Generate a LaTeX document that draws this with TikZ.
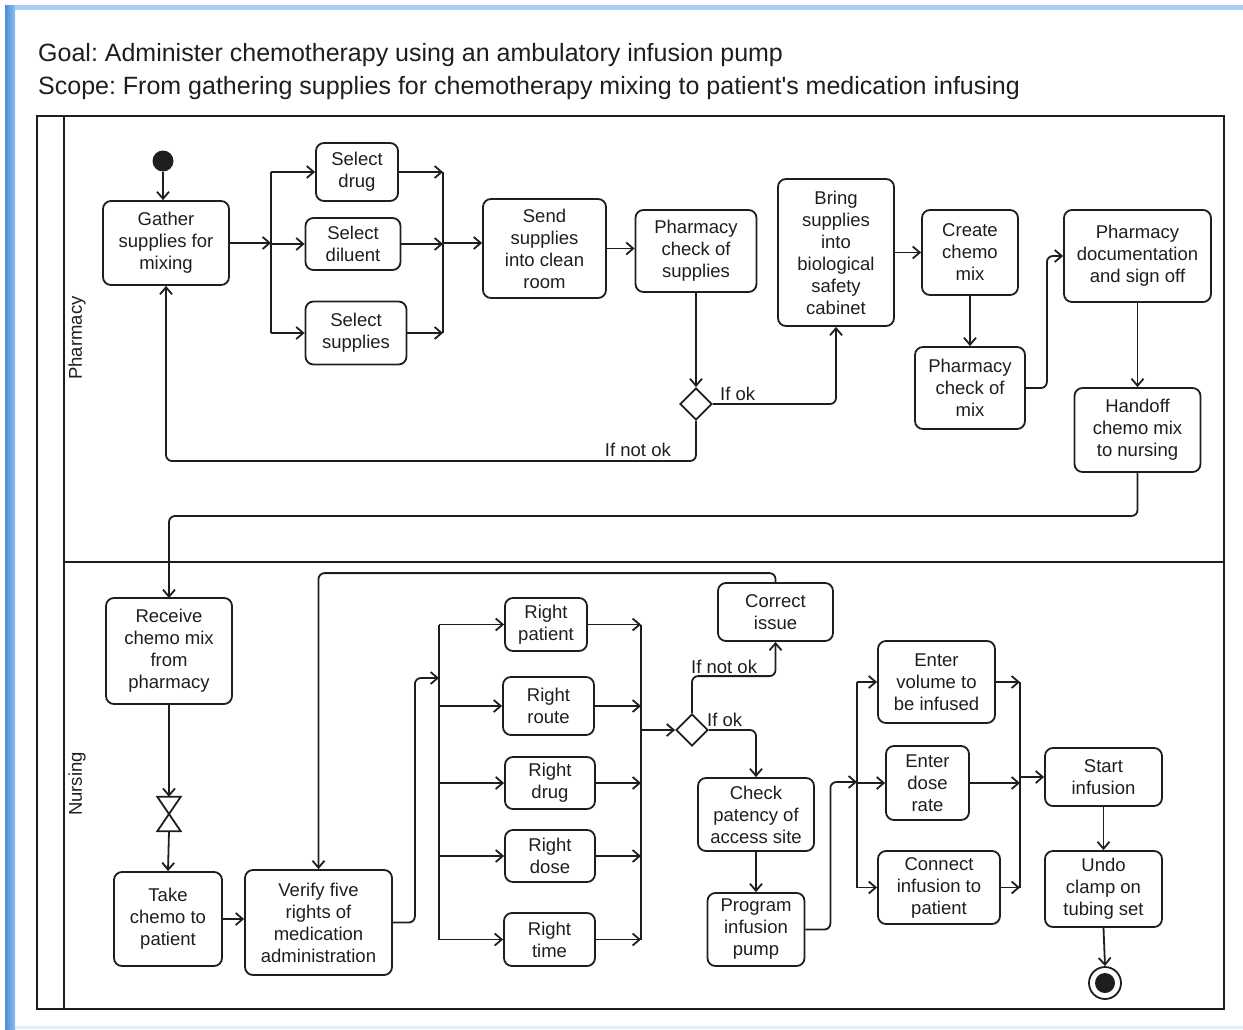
\documentclass[tikz,border=0pt]{standalone}
\usepackage{fontspec}
\setmainfont{Liberation Sans}
\usetikzlibrary{arrows.meta,shapes.geometric,calc}

\definecolor{ink}{HTML}{1E1E1E}
\definecolor{edgeblue}{HTML}{4C8ED6}
\definecolor{edgeblueL}{HTML}{8DBDF0}
\definecolor{topblue}{HTML}{A8CDF6}
\definecolor{botblue}{HTML}{E2F0FB}

\newcommand\actfont{\fontsize{18.5}{22}\selectfont}
\newcommand\headfont{\fontsize{25}{30}\selectfont}
\frenchspacing

\begin{document}
\begin{tikzpicture}[x=1pt,y=-1pt,
  inkline/.style={draw=ink, line width=1.8pt},
  act/.style={draw=ink, line width=1.8pt, rounded corners=8pt, align=center,
    inner sep=0pt, font=\actfont, text=ink},
  flow/.style={draw=ink, line width=1.8pt, rounded corners=6pt,
    -{Straight Barb[length=7pt,width=12pt]}},
  bar/.style={draw=ink, line width=1.8pt},
  decision/.style={diamond, aspect=1, draw=ink, line width=1.8pt,
    minimum width=32pt, minimum height=32pt, inner sep=0pt},
  guard/.style={font=\actfont, text=ink, inner sep=0pt},
  lane/.style={font=\actfont, text=ink, rotate=90, inner sep=0pt},
]
\useasboundingbox (0,0) rectangle (1243,1029);

% window edge
\fill[topblue] (5,5) rectangle (1243,10);
\fill[botblue] (14,1026) rectangle (1243,1029);
\shade[left color=edgeblue, right color=edgeblueL] (5,5) rectangle (15,1029);

% heading
\node[anchor=base west, font=\headfont, text=ink, inner sep=0pt] (goal) at (38,61)
  {Goal: Administer chemotherapy using an ambulatory infusion pump};
\node[anchor=base west, font=\headfont, text=ink, inner sep=0pt] (scope) at (38,94)
  {Scope: From gathering supplies for chemotherapy mixing to patient\textquotesingle s medication infusing};

% pool and lanes
\draw[inkline] (37,116) rectangle (1224,1009);
\draw[inkline] (64,116) -- (64,1009);
\draw[inkline] (64,562) -- (1224,562);
\node[lane] (lanePh) at (77,338) {Pharmacy};
\node[lane] (laneNu) at (77,784) {Nursing};

% ---------------- Pharmacy lane ----------------
\node[circle, fill=ink, minimum size=21pt, inner sep=0pt] (init) at (163,161) {};
\node[act, minimum width=126pt, minimum height=84pt] (gather) at (166,243) {Gather\\supplies for\\mixing};
\node[act, minimum width=82pt, minimum height=58pt] (seldrug) at (357,172) {Select\\drug};
\node[act, minimum width=95pt, minimum height=52pt] (seldil) at (353,244) {Select\\diluent};
\node[act, minimum width=101pt, minimum height=63pt] (selsup) at (356,333) {Select\\supplies};
\node[act, minimum width=123pt, minimum height=99pt] (send) at (544.5,248.5) {Send\\supplies\\into clean\\room};
\node[act, minimum width=121pt, minimum height=82pt] (chksup) at (696,251) {Pharmacy\\check of\\supplies};
\node[decision] (dec1) at (696,404) {};
\node[act, minimum width=116pt, minimum height=147pt] (bring) at (836,252.5) {Bring\\supplies\\into\\biological\\safety\\cabinet};
\node[act, minimum width=96pt, minimum height=85pt] (create) at (970,252.5) {Create\\chemo\\mix};
\node[act, minimum width=110pt, minimum height=82pt] (chkmix) at (970,388) {Pharmacy\\check of\\mix};
\node[act, minimum width=147pt, minimum height=92pt] (doc) at (1137.5,256) {Pharmacy\\documentation\\and sign off};
\node[act, minimum width=126pt, minimum height=84pt] (handoff) at (1137.5,430) {Handoff\\chemo mix\\to nursing};

% fork / join bars for supply selection
\coordinate (f1t) at (271,172);
\coordinate (f1b) at (271,333);
\coordinate (j1t) at (443,172);
\coordinate (j1b) at (443,333);
\draw[bar] (f1t) -- (f1b);
\draw[bar] (j1t) -- (j1b);

\draw[flow] (init.south) -- (init.south |- gather.north);
\draw[flow] (gather.east) -- (gather.east -| f1t);
\foreach \n in {seldrug,seldil,selsup}{
  \draw[flow] (\n.west -| f1t) -- (\n.west);
  \draw[flow] (\n.east) -- (\n.east -| j1t);
}
\draw[flow] (gather.east -| j1t) -- (gather.east -| send.west);
\draw[flow] (send.east) -- (send.east -| chksup.west);
\draw[flow] (chksup.south) -- (dec1.north);
\draw[flow] (dec1.east) -| (bring.south);
\node[guard, anchor=base west] (okA) at (720,400) {If ok};
\coordinate (retA) at (166,461);
\draw[flow] (dec1.south) |- (retA) -- (gather.south);
\node[guard, anchor=base east] (nokA) at (671,456) {If not ok};
\draw[flow] (bring.east) -- (bring.east -| create.west);
\draw[flow] (create.south) -- (chkmix.north);
\draw[flow] (chkmix.east) -- ++(21,0) |- (doc.west);
\draw[flow] (doc.south) -- (handoff.north);
\coordinate (handA) at (600,516);
\draw[flow] (handoff.south) |- (handA) -| (169,598);

% ---------------- Nursing lane ----------------
\node[act, minimum width=126pt, minimum height=106pt] (receive) at (169,651) {Receive\\chemo mix\\from\\pharmacy};
\node[minimum width=23pt, minimum height=34pt, inner sep=0pt] (wait) at (169,814) {};
\draw[inkline, line join=miter] (wait.north west) -- (wait.north east) -- (wait.south west) -- (wait.south east) -- cycle;
\node[act, minimum width=108pt, minimum height=94pt] (take) at (168,919) {Take\\chemo to\\patient};
\node[act, minimum width=147pt, minimum height=105pt] (verify) at (318.5,922.5) {Verify five\\rights of\\medication\\administration};

\node[act, minimum width=82pt, minimum height=53pt] (rpat) at (546,624.5) {Right\\patient};
\node[act, minimum width=91pt, minimum height=58pt] (rroute) at (548.5,706) {Right\\route};
\node[act, minimum width=90pt, minimum height=52pt] (rdrug) at (550,783) {Right\\drug};
\node[act, minimum width=90pt, minimum height=52pt] (rdose) at (550,856) {Right\\dose};
\node[act, minimum width=91pt, minimum height=53pt] (rtime) at (549.5,939.5) {Right\\time};

\node[decision] (dec2) at (692,730) {};
\node[act, minimum width=115pt, minimum height=58pt] (correct) at (775.5,612) {Correct\\issue};
\node[act, minimum width=116pt, minimum height=73pt] (patency) at (756,814.5) {Check\\patency of\\access site};
\node[act, minimum width=97pt, minimum height=73pt] (program) at (756,929.5) {Program\\infusion\\pump};

\node[act, minimum width=117pt, minimum height=82pt] (volume) at (936.5,682) {Enter\\volume to\\be infused};
\node[act, minimum width=83pt, minimum height=74pt] (rate) at (927.5,783) {Enter\\dose\\rate};
\node[act, minimum width=122pt, minimum height=73pt] (connect) at (939,887.5) {Connect\\infusion to\\patient};
\node[act, minimum width=117pt, minimum height=58pt] (startinf) at (1103.5,777) {Start\\infusion};
\node[act, minimum width=117pt, minimum height=76pt] (undo) at (1103.5,889) {Undo\\clamp on\\tubing set};
\node[circle, draw=ink, line width=1.8pt, minimum size=32pt, inner sep=0pt] (final) at (1105,983) {};
\node[circle, fill=ink, minimum size=20pt, inner sep=0pt] (finaldot) at (final.center) {};

% fork / join bars for the five rights and the pump set-up
\coordinate (f2t) at (439,624.5);
\coordinate (f2b) at (439,939.5);
\coordinate (j2t) at (641,624.5);
\coordinate (j2b) at (641,939.5);
\coordinate (f3t) at (857,682);
\coordinate (f3b) at (857,887.5);
\coordinate (j3t) at (1020,682);
\coordinate (j3b) at (1020,887.5);
\draw[bar] (f2t) -- (f2b);
\draw[bar] (j2t) -- (j2b);
\draw[bar] (f3t) -- (f3b);
\draw[bar] (j3t) -- (j3b);

\draw[flow] (receive.south) -- (wait.north);
\draw[flow] (wait.south) -- (take.north);
\draw[flow] (take.east) -- (take.east -| verify.west);
\coordinate (f2in) at (439,678);
\draw[flow] (verify.east) -- ++(22,0) |- (f2in);
\foreach \n in {rpat,rroute,rdrug,rdose,rtime}{
  \draw[flow] (\n.west -| f2t) -- (\n.west);
  \draw[flow] (\n.east) -- (\n.east -| j2t);
}
\draw[flow] (dec2.west -| j2t) -- (dec2.west);
\draw[flow] (dec2.north) -- ++(0,-37) -| (correct.south);
\node[guard, anchor=base west] (nokB) at (691,673) {If not ok};
\draw[flow] (dec2.east) -| (patency.north);
\node[guard, anchor=base west] (okB) at (707,726) {If ok};
\draw[flow] (correct.north) -- ++(0,-9) -| (verify.north);
\draw[flow] (patency.south) -- (program.north);
\coordinate (f3in) at (857,782);
\draw[flow] (program.east) -- ++(25,0) |- (f3in);
\foreach \n in {volume,rate,connect}{
  \draw[flow] (\n.west -| f3t) -- (\n.west);
  \draw[flow] (\n.east) -- (\n.east -| j3t);
}
\draw[flow] (startinf.west -| j3t) -- (startinf.west);
\draw[flow] (startinf.south) -- (undo.north);
\draw[flow] (undo.south) -- (final.north);
\end{tikzpicture}
\end{document}
